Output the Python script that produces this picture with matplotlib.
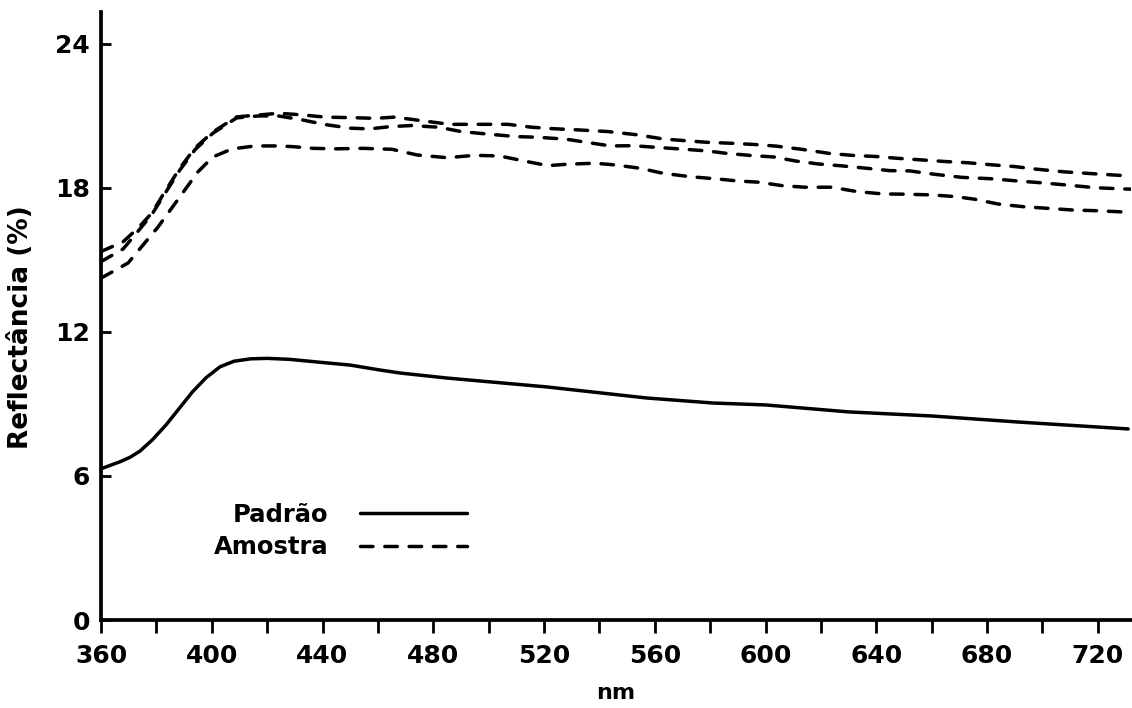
import matplotlib
matplotlib.use("Agg")
import matplotlib.pyplot as plt

plt.rcParams['font.family'] = ['DejaVu Sans']
plt.rcParams['font.weight'] = 'bold'

# Padrão (standard) reflectance curve
padrao_nm = [360, 363.5, 367, 370.5, 374, 378.5, 383.5, 388.5, 393, 398, 403, 408, 414,
             420, 428, 438, 450, 461, 468, 485, 521, 557, 581, 600, 630, 660, 691, 731]
padrao_refl = [6.3, 6.45, 6.6, 6.78, 7.03, 7.5, 8.13, 8.85, 9.5, 10.1, 10.55, 10.78, 10.88,
               10.9, 10.86, 10.75, 10.62, 10.41, 10.29, 10.08, 9.71, 9.25, 9.04, 8.96, 8.67,
               8.5, 8.25, 7.96]

# Amostra (sample) reflectance curves
amostra1_nm = [360, 368, 373.4, 378.4, 383, 388.5, 394, 400.4, 409, 417, 424, 432, 441, 450,
               459, 466, 474, 486, 497, 507, 515.5, 523, 532, 543, 554, 563, 572, 579, 588,
               596, 604, 613, 623, 632, 640, 647, 656, 665, 673, 681, 690, 698, 708, 716, 727, 732]
amostra1_refl = [15.35, 15.76, 16.33, 16.96, 17.83, 18.83, 19.67, 20.33, 20.96, 21.04, 21.11,
                 21.05, 20.95, 20.93, 20.9, 20.95, 20.83, 20.65, 20.65, 20.65, 20.53, 20.47,
                 20.42, 20.35, 20.21, 20.04, 19.96, 19.9, 19.86, 19.81, 19.74, 19.61, 19.44,
                 19.35, 19.31, 19.24, 19.17, 19.1, 19.05, 18.97, 18.89, 18.78, 18.67, 18.61,
                 18.53, 18.5]

amostra2_nm = [360, 368, 373.4, 378.4, 383, 388.5, 394, 400.4, 409, 417, 424, 432, 441, 450,
               457, 464, 472, 482, 490, 500, 510, 518, 528, 536, 544, 552, 562, 571, 579, 586,
               595, 603, 611, 619, 627.5, 636.5, 645, 652, 661, 671, 682, 690, 699, 710, 719,
               729, 732]
amostra2_refl = [14.93, 15.46, 16.2, 16.9, 17.75, 18.75, 19.6, 20.28, 20.92, 21.0, 21.0, 20.85,
                 20.64, 20.49, 20.46, 20.55, 20.6, 20.53, 20.35, 20.24, 20.14, 20.11, 20.03,
                 19.89, 19.75, 19.76, 19.68, 19.61, 19.54, 19.44, 19.35, 19.29, 19.12, 19.0,
                 18.92, 18.82, 18.72, 18.71, 18.57, 18.44, 18.38, 18.3, 18.22, 18.11, 18.01,
                 17.96, 17.95]

amostra3_nm = [360, 369.8, 375.2, 380.6, 385.6, 390.3, 395, 400.4, 407.3, 415.6, 423.9, 429.3,
               436.6, 445.2, 454.6, 465.1, 474.1, 485, 495.1, 504.1, 513.8, 521.4, 528.7,
               538.4, 545.6, 554.7, 563, 572.7, 582.5, 590, 597.4, 606.4, 614.2, 623.9, 632.9,
               642.5, 650.4, 660, 668.4, 675.6, 684, 693, 702, 711, 720, 729.1, 732]
amostra3_refl = [14.24, 14.875, 15.625, 16.375, 17.17, 17.92, 18.67, 19.29, 19.625, 19.75,
                 19.75, 19.72, 19.65, 19.63, 19.65, 19.61, 19.375, 19.26, 19.36, 19.33, 19.1,
                 18.93, 18.99, 19.03, 18.96, 18.82, 18.61, 18.47, 18.375, 18.29, 18.24, 18.09,
                 18.03, 18.03, 17.85, 17.75, 17.74, 17.71, 17.64, 17.53, 17.33, 17.22, 17.15,
                 17.08, 17.05, 17.0, 16.99]

x_major_ticks = [360, 400, 440, 480, 520, 560, 600, 640, 680, 720]
x_minor_ticks = [380, 420, 460, 500, 540, 580, 620, 660, 700]
y_ticks = [0, 6, 12, 18, 24]

fig = plt.figure(figsize=(11.32, 7.08), dpi=100)
ax = fig.add_axes([101 / 1132, 88 / 708, 1030 / 1132, 608 / 708])

line_w = 2.5
dash = (3.6, 3.4)

ax.plot(padrao_nm, padrao_refl, color='black', lw=line_w, solid_capstyle='round',
        solid_joinstyle='round', label='Padrão')
ax.plot(amostra1_nm, amostra1_refl, color='black', lw=line_w, dashes=dash,
        dash_capstyle='round', label='Amostra')
ax.plot(amostra2_nm, amostra2_refl, color='black', lw=line_w, dashes=dash,
        dash_capstyle='round', label='_nolegend_')
ax.plot(amostra3_nm, amostra3_refl, color='black', lw=line_w, dashes=dash,
        dash_capstyle='round', label='_nolegend_')

ax.set_xlim(360, 732)
ax.set_ylim(0, 25.33)

for side in ('top', 'right'):
    ax.spines[side].set_visible(False)
for side in ('left', 'bottom'):
    ax.spines[side].set_linewidth(2.7)

ax.set_xticks(x_major_ticks)
ax.set_xticks(x_minor_ticks, minor=True)
ax.set_yticks(y_ticks)
ax.tick_params(axis='x', which='both', direction='out', length=9, width=2.0,
               labelsize=18, pad=8)
ax.tick_params(axis='y', which='major', direction='in', length=7, width=2.0,
               labelsize=18, pad=8)

ax.set_xlabel('nm', fontsize=16, fontweight='bold', labelpad=11)
ax.set_ylabel('Reflectância (%)', fontsize=19, fontweight='bold')
ax.yaxis.label.set_va('center')
ax.yaxis.set_label_coords((21 - 101) / 1030, (620 - 327) / 608)

leg = ax.legend(loc='center right', bbox_to_anchor=((467 - 101) / 1030, (620 - 531) / 608),
                frameon=False, markerfirst=False, fontsize=17.5, handlelength=4.4,
                handletextpad=1.3, labelspacing=0.33, borderpad=0, borderaxespad=0)

fig.savefig('out.png', dpi=100, facecolor='white')
